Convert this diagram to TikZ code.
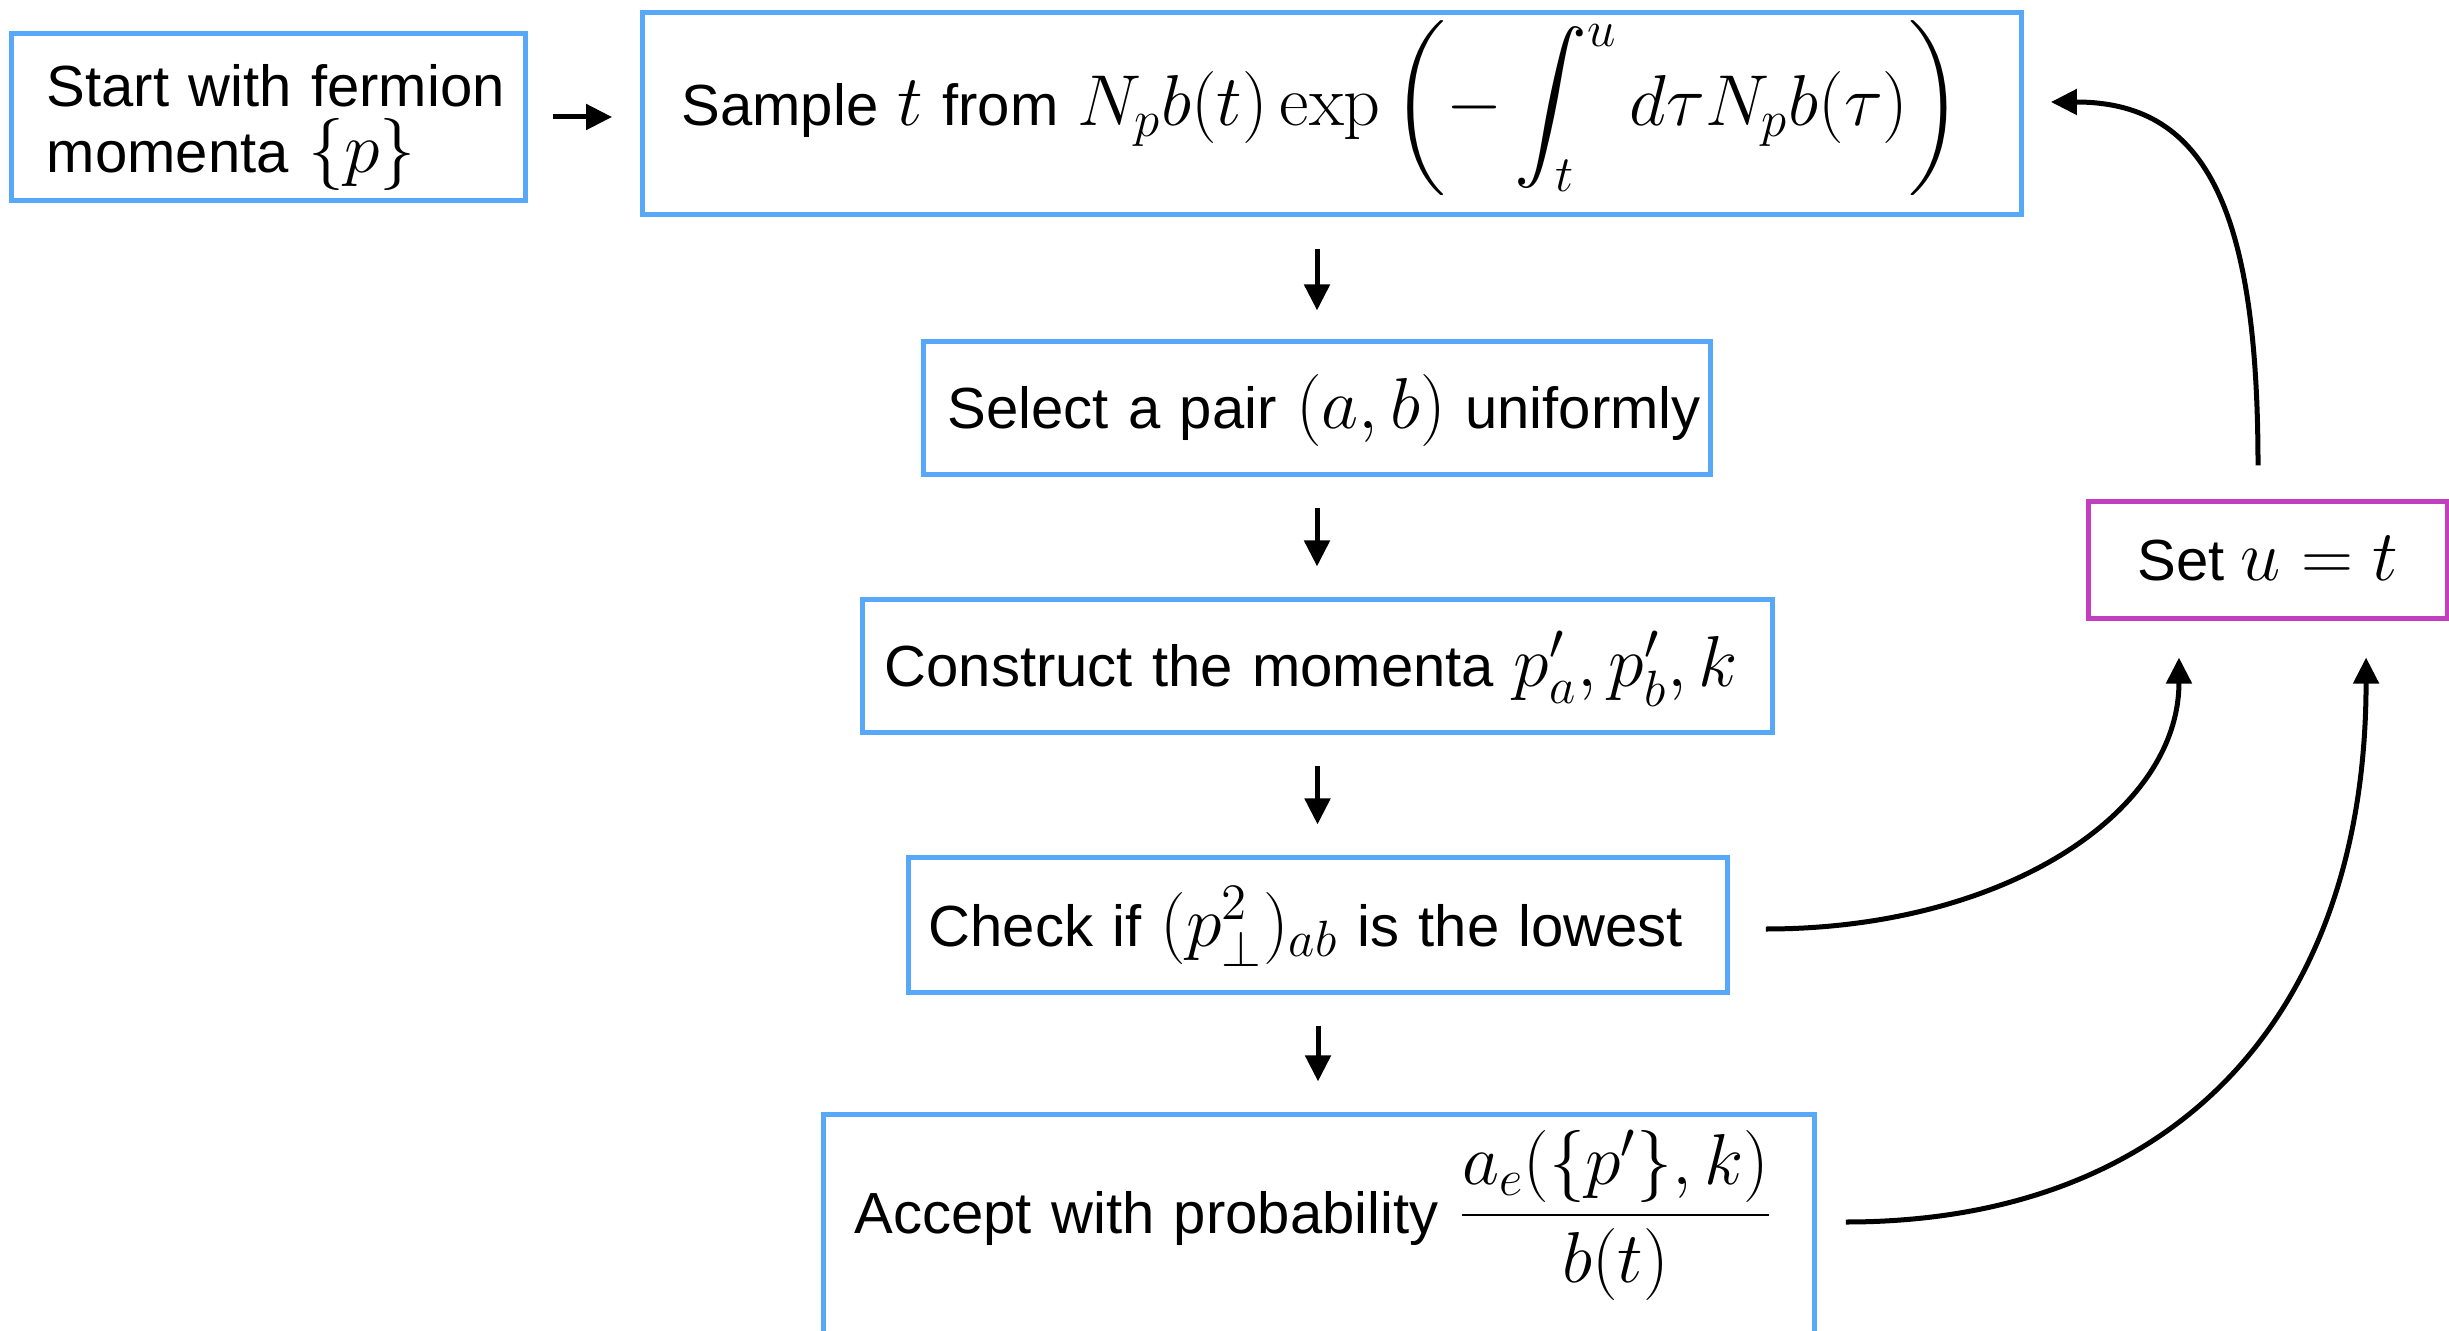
\documentclass[tikz,border=0pt]{standalone}
\usepackage{fix-cm}
\usepackage{amsmath}
\usepackage[no-math]{fontspec}
\setmainfont{Liberation Sans}
\DeclareMathSizes{16.5}{20.5}{14.5}{11}
\usetikzlibrary{arrows.meta}
\definecolor{boxblue}{RGB}{88,168,250}
\definecolor{boxmag}{RGB}{194,64,190}
\newcommand\baseat[2]{\raisebox{-#1}[0.5cm][0.5cm]{#2}}
\begin{document}
\begin{tikzpicture}[x=0.01cm,y=-0.01cm,
  every node/.style={font=\fontsize{16.5}{18.7}\selectfont},
  flowbox/.style={draw=boxblue, line width=0.05cm, inner ysep=0pt, align=left},
  setbox/.style={draw=boxmag, line width=0.05cm, inner sep=0pt, align=center},
  arr/.style={line width=0.05cm, -{Triangle[length=0.26cm,width=0.25cm]}},
]
\useasboundingbox (0,0) rectangle (2449,1331);

\node[flowbox, minimum height=1.66cm, inner xsep=0.35cm, text width=4.43cm] (start) at (268.5,117)
  {\baseat{-0.10cm}{\parbox[t]{4.43cm}{\mbox{Start with fermion}\\\mbox{momenta $\{p\}$}}}};
\node[flowbox, minimum height=2.01cm, inner xsep=0.39cm, text width=13.0cm] (sample) at (1332,113.5)
  {\baseat{0.125cm}{Sample $t$ from $N_p b(t)\exp\left(-\displaystyle\int_t^u d\tau N_p b(\tau)\right)$}};
\node[flowbox, minimum height=1.32cm, inner xsep=0.24cm, text width=7.38cm] (select) at (1317,408)
  {\baseat{0.20cm}{Select a pair $(a,b)$ uniformly}};
\node[flowbox, minimum height=1.32cm, inner xsep=0.22cm, text width=8.65cm] (construct) at (1317.5,666)
  {\baseat{0.20cm}{Construct the momenta $p'_a, p'_b, k$}};
\node[flowbox, minimum height=1.34cm, inner xsep=0.20cm, text width=7.78cm] (check) at (1318,925)
  {\baseat{0.21cm}{Check if $(p_\perp^2)_{ab}$ is the lowest}};
\node[flowbox, minimum height=2.26cm, inner xsep=0.31cm, text width=9.28cm] (accept) at (1319,1228)
  {\baseat{0.05cm}{Accept with probability $\dfrac{a_e(\{p'\},k)}{b(t)}$}};
\node[setbox, minimum width=3.59cm, minimum height=1.16cm] (setu) at (2268,560)
  {\baseat{0.20cm}{Set $u = t$}};

\draw[arr, shorten <=0.25cm, shorten >=0.28cm] (start.east) -- (start.east -| sample.west);
\draw[arr, shorten <=0.32cm, shorten >=0.29cm] (sample.south -| select.north) -- (select.north);
\draw[arr, shorten <=0.31cm, shorten >=0.31cm] (select.south) -- (select.south |- construct.north);
\draw[arr, shorten <=0.31cm, shorten >=0.31cm] (construct.south) -- (construct.south |- check.north);
\draw[arr, shorten <=0.31cm, shorten >=0.31cm] (check.south) -- (check.south |- accept.north);

\draw[arr] ([xshift=0.36cm,yshift=-0.04cm]check.east) .. controls +(237,0) and +(0,156) .. ([xshift=-0.89cm,yshift=-0.37cm]setu.south);
\draw[arr] ([xshift=0.29cm,yshift=0.06cm]accept.east) .. controls +(330,0) and +(0,357) .. ([xshift=0.98cm,yshift=-0.37cm]setu.south);
\draw[arr] ([xshift=-0.10cm,yshift=0.34cm]setu.north) .. controls +(0,-264) and +(151,0) .. ([xshift=0.27cm,yshift=0.115cm]sample.east);
\end{tikzpicture}
\end{document}
